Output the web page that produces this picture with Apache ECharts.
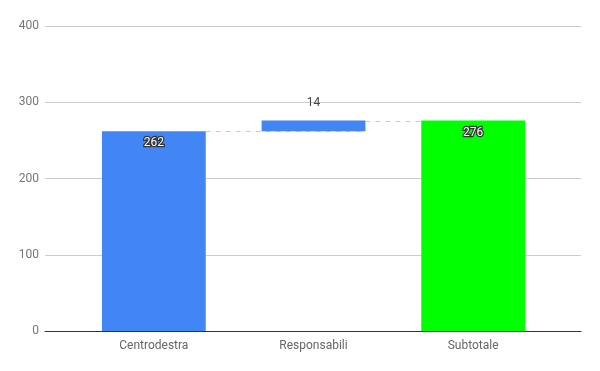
<!DOCTYPE html>
<html>
<head>
<meta charset="utf-8">
<script src="https://cdn.jsdelivr.net/npm/echarts@6/dist/echarts.min.js"></script>
<style>html,body{margin:0;padding:0;background:#fff}#c{width:600px;height:371px}</style>
</head>
<body>
<div id="c"></div>
<script>
var categories = ['Centrodestra', 'Responsabili', 'Subtotale'];
var values = [262, 14, 276];
var isTotal = [true, false, true];
var barColors = ['#4285F4', '#4285F4', '#00FF00'];
var yTicks = { min: 0, max: 400, interval: 100 };

// waterfall bases derived from values
var bases = [];
var running = 0;
for (var i = 0; i < values.length; i++) {
  if (isTotal[i]) { bases.push(0); running = values[i]; }
  else { bases.push(running); running += values[i]; }
}
var tops = values.map(function (v, i) { return bases[i] + v; });
var connectors = [];
for (var j = 0; j < values.length - 1; j++) connectors.push([j, tops[j]]);

var FONT = 'Roboto';
var chart = echarts.init(document.getElementById('c'));
chart.setOption({
  animation: false,
  textStyle: { fontFamily: FONT },
  grid: [
    { left: 45, right: 19, top: 26, bottom: 40 },
    { left: 74, right: 47, top: 26, bottom: 40 }
  ],
  xAxis: [
    { gridIndex: 0, type: 'value', min: 0, max: 1, axisLine: { show: true, lineStyle: { color: '#333', width: 1 } },
      axisTick: { show: false }, axisLabel: { show: false }, splitLine: { show: false } },
    { gridIndex: 1, type: 'category', data: categories, axisLine: { show: false }, axisTick: { show: false },
      axisLabel: { color: '#666', fontSize: 12, margin: 9, fontFamily: FONT } }
  ],
  yAxis: [
    { gridIndex: 0, type: 'value', min: yTicks.min, max: yTicks.max, interval: yTicks.interval,
      axisLine: { show: false }, axisTick: { show: false },
      axisLabel: { color: '#757575', fontSize: 12, margin: 6, fontFamily: FONT },
      splitLine: { lineStyle: { color: '#cccccc', width: 1 } } },
    { gridIndex: 1, type: 'value', min: yTicks.min, max: yTicks.max, interval: yTicks.interval, show: false }
  ],
  series: [
    {
      type: 'custom', xAxisIndex: 1, yAxisIndex: 1, z: 1, data: connectors, silent: true,
      renderItem: function (params, api) {
        var idx = api.value(0), y = api.value(1);
        var p0 = api.coord([idx, y]);
        var p1 = api.coord([idx + 1, y]);
        var bw = api.size([1, 0])[0] * 0.65;
        return {
          type: 'line',
          shape: { x1: p0[0] + bw / 2, y1: Math.round(p0[1]) + 0.5, x2: p1[0] + bw / 2, y2: Math.round(p0[1]) + 0.5 },
          style: { stroke: '#cccccc', lineWidth: 1, lineDash: [5, 5] }
        };
      }
    },
    {
      type: 'bar', xAxisIndex: 1, yAxisIndex: 1, stack: 'w', barWidth: '65%', z: 2,
      itemStyle: { color: 'transparent' }, data: bases, silent: true
    },
    {
      type: 'bar', xAxisIndex: 1, yAxisIndex: 1, stack: 'w', barWidth: '65%', z: 3,
      data: values.map(function (v, i) {
        var lbl = isTotal[i]
          ? { show: true, position: 'insideTop', distance: 6, color: '#fff', fontSize: 12, fontFamily: FONT,
              textBorderColor: '#333', textBorderWidth: 2.5 }
          : { show: true, position: 'top', distance: 12, color: '#444', fontSize: 12, fontFamily: FONT };
        return { value: v, itemStyle: { color: barColors[i] }, label: lbl };
      })
    }
  ]
});
</script>
</body>
</html>
